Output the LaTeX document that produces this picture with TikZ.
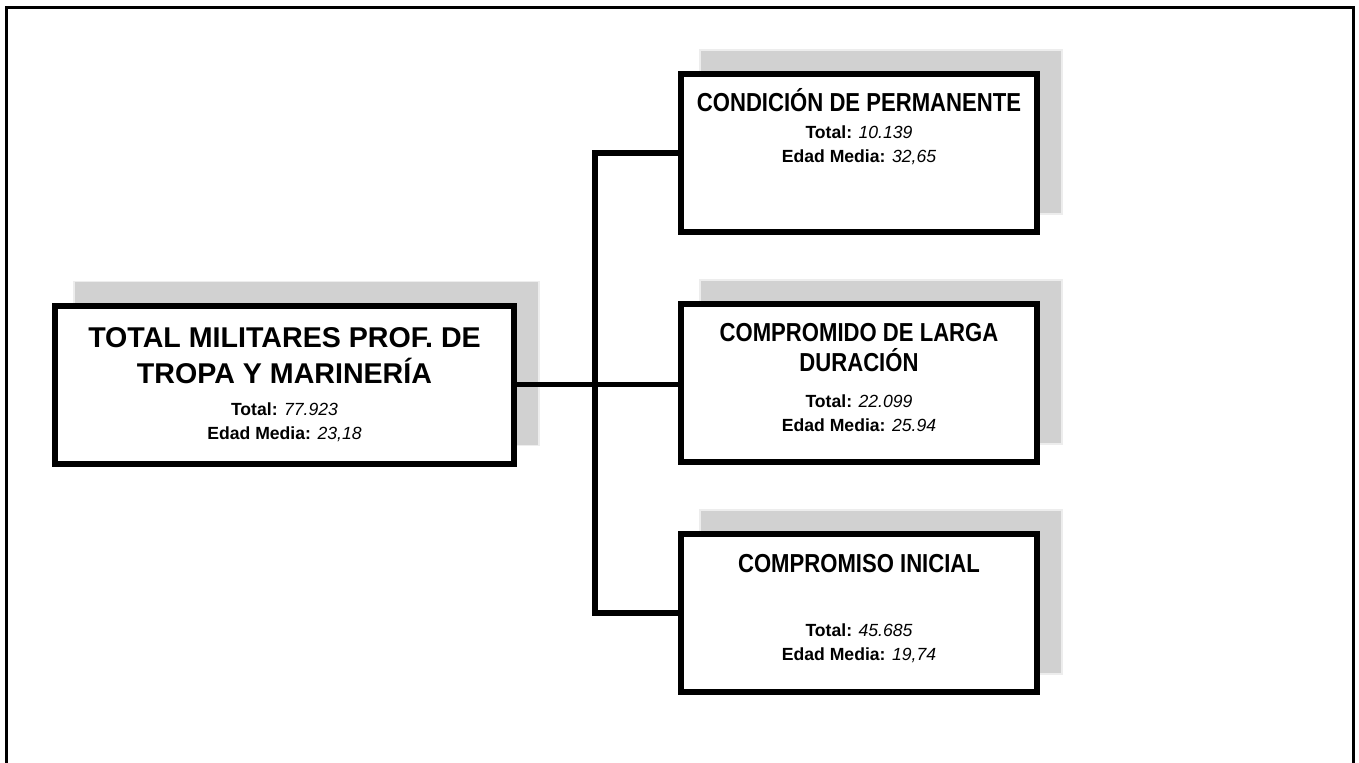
\documentclass[tikz,border=0pt]{standalone}
\usepackage{fontspec}
\setmainfont{Liberation Sans}
\newfontfamily\narrowsf{Liberation Sans}[FakeStretch=0.85]
\usetikzlibrary{positioning,backgrounds}

\newcommand\bigtitle{\fontsize{14.3}{16.5}\selectfont\bfseries}
\newcommand\boxtitle{\narrowsf\fontsize{13}{15}\selectfont\bfseries}
\newcommand\dato[2]{\textbf{#1} \textit{#2}}

\begin{document}
\begin{tikzpicture}[
  x=0.5pt, y=-0.5pt,
  node distance=33pt,
  unit/.style={draw, line width=3pt, fill=white, align=center, inner sep=0pt,
    minimum width=#1, minimum height=79pt, font=\fontsize{8.8}{12}\selectfont},
  unit/.default=178pt,
  link/.style={line width=2.75pt},
  shade/.style={fill=black!18, draw=black!7, line width=0.6pt},
]
\useasboundingbox (0,0) rectangle (1359,762);

% outer frame (open at the bottom)
\draw[line width=1.65pt] (6.6,770) -- (6.6,7.5) -- (1353.3,7.5) -- (1353.3,770);

\node[unit=229.5pt] (total) at (284.5,384.5) {\bigtitle TOTAL MILITARES PROF. DE\\[4.5pt]\bigtitle TROPA Y MARINERÍA\\[4pt]\dato{Total:}{77.923}\\\dato{Edad Media:}{23,18}};

\node[unit] (larga) at (859,383) {\boxtitle COMPROMIDO DE LARGA\\[3pt]\boxtitle DURACIÓN\\[6pt]\dato{Total:}{22.099}\\\dato{Edad Media:}{25.94}\\[-6pt]\mbox{}};
\node[unit, above=of larga] (perm) {\boxtitle CONDICIÓN DE PERMANENTE\\[1.5pt]\dato{Total:}{10.139}\\\dato{Edad Media:}{32,65}\\[16pt]\mbox{}};
\node[unit, below=of larga] (inicial) {\boxtitle COMPROMISO INICIAL\\[20pt]\dato{Total:}{45.685}\\\dato{Edad Media:}{19,74}\\[-6pt]\mbox{}};

% shadows
\begin{scope}[on background layer]
\foreach \n in {total,perm,larga,inicial}
  \draw[shade] ([shift={(22,-21)}]\n.south west) rectangle ([shift={(22,-21)}]\n.north east);
\end{scope}

% connectors
\coordinate (bus) at (595,0);
\draw[link] (perm.west) -| (bus |- inicial.west) -- (inicial.west);
\draw[link] (total.east) -- (total.east -| larga.west);
\end{tikzpicture}
\end{document}
